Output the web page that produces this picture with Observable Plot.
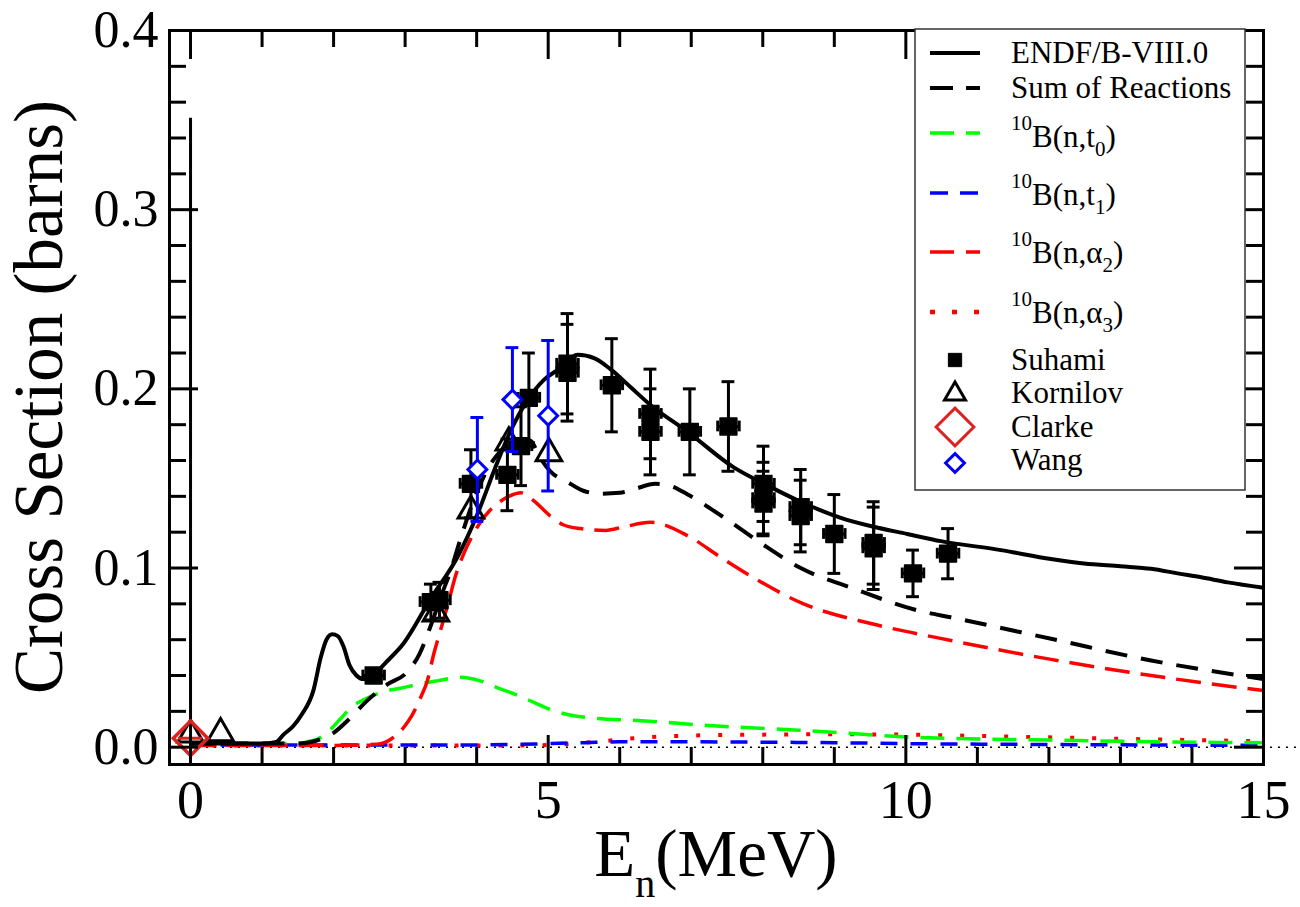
<!DOCTYPE html>
<html><head><meta charset="utf-8">
<script src="https://cdn.jsdelivr.net/npm/d3@7"></script>
<script src="https://cdn.jsdelivr.net/npm/@observablehq/plot@0.6"></script>
<style>html,body{margin:0;padding:0;background:#fff;} svg{display:block;}</style>
</head><body><div id="chart"></div>
<script>
// ---------- data ----------
const endfE = [0, 0.5, 1.0, 1.2, 1.3, 1.44, 1.55, 1.72, 1.82, 1.9, 1.98, 2.06, 2.14, 2.22, 2.32, 2.42, 2.56, 2.7, 2.98, 3.36, 3.73, 4.01, 4.25, 4.48, 4.7, 4.94, 5.15, 5.41, 5.65, 5.87, 6.15, 6.43, 6.95, 7.6, 8.07, 8.53, 9.09, 9.55, 10.02, 10.49, 11.33, 12.03, 12.49, 13.0, 13.43, 13.8, 14.13, 14.5, 15.0];
const endfS = [0.002, 0.002, 0.002, 0.003, 0.007, 0.012, 0.018, 0.032, 0.050, 0.060, 0.063, 0.062, 0.056, 0.046, 0.040, 0.038, 0.040, 0.046, 0.058, 0.083, 0.106, 0.130, 0.155, 0.177, 0.193, 0.205, 0.211, 0.219, 0.217, 0.211, 0.201, 0.191, 0.176, 0.156, 0.146, 0.137, 0.128, 0.123, 0.119, 0.115, 0.110, 0.105, 0.1025, 0.101, 0.0996, 0.097, 0.0948, 0.092, 0.089];

const sumE = [0, 1.0, 1.5, 1.7, 1.85, 2.0, 2.2, 2.47, 2.75, 3.03, 3.2, 3.36, 3.5, 3.64, 3.78, 3.95, 4.15, 4.35, 4.55, 4.75, 4.88, 5.03, 5.27, 5.5, 5.73, 6.0, 6.2, 6.5, 6.7, 6.95, 7.5, 7.97, 8.53, 9.27, 10.2, 10.63, 12.03, 13.43, 15.0];
const sumS = [0.002, 0.002, 0.002, 0.003, 0.005, 0.008, 0.015, 0.026, 0.035, 0.042, 0.052, 0.068, 0.084, 0.099, 0.117, 0.137, 0.155, 0.166, 0.172, 0.171, 0.162, 0.154, 0.148, 0.143, 0.1415, 0.142, 0.144, 0.147, 0.146, 0.141, 0.127, 0.114, 0.100, 0.0885, 0.076, 0.0725, 0.0605, 0.0484, 0.038];

const t0E = [0, 1.0, 1.5, 1.64, 1.8, 1.96, 2.1, 2.24, 2.45, 2.7, 2.95, 3.17, 3.45, 3.78, 4.05, 4.3, 4.57, 4.8, 5.03, 5.3, 5.69, 6.2, 6.6, 7.1, 8.5, 10.17, 12.0, 13.5, 15];
const t0S = [0.002, 0.002, 0.002, 0.003, 0.005, 0.010, 0.016, 0.022, 0.027, 0.031, 0.033, 0.035, 0.037, 0.039, 0.037, 0.033, 0.029, 0.025, 0.021, 0.018, 0.016, 0.015, 0.014, 0.0125, 0.0095, 0.0055, 0.004, 0.003, 0.0025];

const t1E = [0, 3.5, 4.5, 5.0, 5.5, 6.0, 7.0, 8.0, 9.0, 10.0, 12.0, 15];
const t1S = [0.0012, 0.0012, 0.0015, 0.002, 0.0025, 0.003, 0.003, 0.0028, 0.0025, 0.002, 0.0015, 0.001];

const a2E = [0, 2.0, 2.5, 2.66, 2.82, 2.98, 3.1, 3.22, 3.31, 3.4, 3.5, 3.6, 3.7, 3.82, 3.94, 4.06, 4.18, 4.29, 4.45, 4.62, 4.8, 5.03, 5.22, 5.45, 5.8, 6.06, 6.43, 6.95, 7.41, 7.87, 8.57, 9.51, 10.45, 12.03, 13.43, 15];
const a2S = [0.001, 0.001, 0.0015, 0.002, 0.005, 0.011, 0.018, 0.028, 0.037, 0.052, 0.066, 0.080, 0.095, 0.108, 0.118, 0.126, 0.132, 0.136, 0.140, 0.142, 0.1375, 0.129, 0.124, 0.122, 0.121, 0.123, 0.1255, 0.118, 0.106, 0.0946, 0.080, 0.069, 0.061, 0.049, 0.040, 0.0316];

const a3E = [0, 4.5, 5.0, 5.4, 5.8, 6.2, 6.6, 7.0, 8.0, 9.0, 10.0, 11.0, 12.0, 13.0, 14.0, 15.0];
const a3S = [0.001, 0.001, 0.0012, 0.0022, 0.0035, 0.005, 0.006, 0.0065, 0.007, 0.0072, 0.007, 0.0063, 0.0055, 0.0047, 0.004, 0.0033];

const suhE = [2.56, 3.36, 3.48, 3.92, 4.43, 4.62, 4.73, 5.27, 5.27, 5.89, 6.43, 6.43, 6.98, 7.52, 8.01, 8.01, 8.01, 8.53, 8.53, 9.0, 9.55, 9.55, 10.1, 10.59];
const suhS = [0.040, 0.081, 0.082, 0.147, 0.152, 0.168, 0.195, 0.214, 0.209, 0.202, 0.186, 0.176, 0.176, 0.179, 0.147, 0.139, 0.136, 0.134, 0.129, 0.119, 0.114, 0.111, 0.097, 0.108];
const suhErr = [0.003, 0.010, 0.010, 0.019, 0.020, 0.022, 0.025, 0.028, 0.027, 0.026, 0.025, 0.024, 0.024, 0.025, 0.021, 0.020, 0.018, 0.021, 0.020, 0.022, 0.023, 0.023, 0.013, 0.014];
const suhDE = 0.15;

const korE = [0, 0.42, 3.43, 3.92, 4.45, 5.01];
const korS = [0.007, 0.0077, 0.0745, 0.132, 0.170, 0.164];
const korBarE = [0];
const korBarLo = [-0.0087];
const korBarHi = [0.351];

const clE = [0];
const clS = [0.005];
const clDE = [0.17];

const wE = [4.01, 4.5, 5.0];
const wS = [0.155, 0.194, 0.185];
const wLo = [0.126, 0.165, 0.143];
const wHi = [0.184, 0.223, 0.227];

const xMajor = [0, 5, 10, 15];
const xMinor = [1, 2, 3, 4, 6, 7, 8, 9, 11, 12, 13, 14];
const yMajor = [0, 0.1, 0.2, 0.3, 0.4];
const yMinor = [0.02, 0.04, 0.06, 0.08, 0.12, 0.14, 0.16, 0.18, 0.22, 0.24, 0.26, 0.28, 0.32, 0.34, 0.36, 0.38];

const legendItems = ["ENDF/B-VIII.0", "Sum of Reactions", "t0", "t1", "a2", "a3", "Suhami", "Kornilov", "Clarke", "Wang"];

// ---------- layout ----------
const W = 1300, H = 907, mL = 169, mR = 37, mT = 30, mB = 143;
const fw = W - mL - mR, fh = H - mT - mB;
const FF = "Liberation Serif, Times New Roman, Times, serif";
const GREEN = "#00ff00", BLUE = "#0000ff", RED = "#ff0000", CRED = "#dd2222";
const cap = 0.09;

const zip = (E, S) => E.map((e, i) => ({E: e, S: S[i]}));
const endf = zip(endfE, endfS), sum = zip(sumE, sumS), t0 = zip(t0E, t0S),
      t1 = zip(t1E, t1S), a2 = zip(a2E, a2S), a3 = zip(a3E, a3S);
const suh = suhE.map((e, i) => ({E: e, S: suhS[i], d: suhErr[i]}));
const kor = zip(korE, korS);
const korBar = korBarE.map((e, i) => ({E: e, lo: korBarLo[i], hi: korBarHi[i]}));
const cl = clE.map((e, i) => ({E: e, S: clS[i], dE: clDE[i]}));
const wang = wE.map((e, i) => ({E: e, S: wS[i], lo: wLo[i], hi: wHi[i]}));

const lineOpts = {x: "E", y: "S", curve: "monotone-x", strokeLinecap: "butt"};

const plot = Plot.plot({
  width: W, height: H, marginLeft: mL, marginRight: mR, marginTop: mT, marginBottom: mB,
  style: {fontFamily: FF, background: "#fff", color: "black"},
  x: {domain: [-0.294, 15]},
  y: {domain: [-0.00966, 0.4]},
  marks: [
    Plot.axisX({ticks: xMajor, tickSize: 0, tickPadding: 15, fontSize: 54, fontFamily: FF, label: null, tickFormat: d => String(d)}),
    Plot.axisY({ticks: yMajor, tickSize: 0, tickPadding: 11, fontSize: 52, fontFamily: FF, label: null, tickFormat: d => d.toFixed(1)}),
    // zero reference line (dotted, extends past frame)
    Plot.ruleY([0], {x1: 0, x2: 15.48, stroke: "black", strokeWidth: 1.5, strokeDasharray: "2,6"}),
    // model curves
    Plot.line(a3, {...lineOpts, stroke: RED, strokeWidth: 4, strokeDasharray: "4,18"}),
    Plot.line(t1, {...lineOpts, stroke: BLUE, strokeWidth: 3.5, strokeDasharray: "17,13"}),
    Plot.line(t0, {...lineOpts, stroke: GREEN, strokeWidth: 3.5, strokeDasharray: "24,12"}),
    Plot.line(a2, {...lineOpts, stroke: RED, strokeWidth: 3.5, strokeDasharray: "25,11"}),
    Plot.line(sum, {...lineOpts, stroke: "black", strokeWidth: 4, strokeDasharray: "22,14"}),
    Plot.line(endf, {...lineOpts, stroke: "black", strokeWidth: 4}),
    // Suhami error bars
    Plot.ruleX(suh, {x: "E", y1: d => d.S - d.d, y2: d => d.S + d.d, stroke: "black", strokeWidth: 3}),
    Plot.ruleY(suh, {y: d => d.S + d.d, x1: d => d.E - cap, x2: d => d.E + cap, stroke: "black", strokeWidth: 3}),
    Plot.ruleY(suh, {y: d => d.S - d.d, x1: d => d.E - cap, x2: d => d.E + cap, stroke: "black", strokeWidth: 3}),
    Plot.ruleY(suh, {y: "S", x1: d => d.E - suhDE, x2: d => d.E + suhDE, stroke: "black", strokeWidth: 3}),
    Plot.ruleX(suh, {x: d => d.E - suhDE, y1: d => d.S - 0.003, y2: d => d.S + 0.003, stroke: "black", strokeWidth: 3}),
    Plot.ruleX(suh, {x: d => d.E + suhDE, y1: d => d.S - 0.003, y2: d => d.S + 0.003, stroke: "black", strokeWidth: 3}),
    Plot.dot(suh, {x: "E", y: "S", symbol: "square", r: 9.5, fill: "black", stroke: "black", strokeWidth: 1.5, strokeLinejoin: "round"}),
    // Kornilov
    Plot.ruleX(korBar, {x: "E", y1: "lo", y2: "hi", stroke: "black", strokeWidth: 3}),
    Plot.dot(kor, {x: "E", y: "S", symbol: "triangle", r: 9.5, fill: "none", stroke: "black", strokeWidth: 3}),
    // Clarke
    Plot.ruleY(cl, {y: "S", x1: d => d.E - d.dE, x2: d => d.E + d.dE, stroke: CRED, strokeWidth: 3}),
    Plot.dot(cl, {x: "E", y: "S", symbol: "diamond2", r: 15.5, fill: "none", stroke: CRED, strokeWidth: 3.5}),
    // Wang
    Plot.ruleX(wang, {x: "E", y1: "lo", y2: "hi", stroke: BLUE, strokeWidth: 3}),
    Plot.ruleY(wang, {y: "hi", x1: d => d.E - cap, x2: d => d.E + cap, stroke: BLUE, strokeWidth: 3}),
    Plot.ruleY(wang, {y: "lo", x1: d => d.E - cap, x2: d => d.E + cap, stroke: BLUE, strokeWidth: 3}),
    Plot.dot(wang, {x: "E", y: "S", symbol: "diamond2", r: 8.5, fill: "white", stroke: BLUE, strokeWidth: 3}),
    // inward ticks on all four sides
    Plot.tickX(xMinor, {x: d => d, insetTop: fh - 17, stroke: "black", strokeWidth: 3}),
    Plot.tickX(xMajor, {x: d => d, insetTop: fh - 29, stroke: "black", strokeWidth: 3}),
    Plot.tickX(xMinor, {x: d => d, insetBottom: fh - 17, stroke: "black", strokeWidth: 3}),
    Plot.tickX(xMajor, {x: d => d, insetBottom: fh - 29, stroke: "black", strokeWidth: 3}),
    Plot.tickY(yMinor, {y: d => d, insetRight: fw - 17, stroke: "black", strokeWidth: 3}),
    Plot.tickY(yMajor, {y: d => d, insetRight: fw - 29, stroke: "black", strokeWidth: 3}),
    Plot.tickY(yMinor, {y: d => d, insetLeft: fw - 17, stroke: "black", strokeWidth: 3}),
    Plot.tickY(yMajor, {y: d => d, insetLeft: fw - 29, stroke: "black", strokeWidth: 3}),
    Plot.frame({stroke: "black", strokeWidth: 3})
  ]
});

document.getElementById("chart").appendChild(plot);

// ---------- titles and legend ----------
const svg = d3.select(plot);

// y title
svg.append("text")
  .attr("transform", `translate(62,${mT + fh / 2}) rotate(-90)`)
  .attr("text-anchor", "middle").attr("font-family", FF).attr("font-size", 69).attr("fill", "black")
  .text("Cross Section (barns)");

// x title with subscript
const xt = svg.append("text").attr("x", mL + fw / 2).attr("y", 876)
  .attr("text-anchor", "middle").attr("font-family", FF).attr("fill", "black");
xt.append("tspan").attr("font-size", 67).text("E");
xt.append("tspan").attr("font-size", 40).attr("dy", 21).text("n");
xt.append("tspan").attr("font-size", 67).attr("dy", -21).text("(MeV)");

// legend
const lg = svg.append("g").attr("font-family", FF).attr("fill", "black").attr("text-anchor", "start");
lg.append("rect").attr("x", 915).attr("y", 29).attr("width", 330).attr("height", 461)
  .attr("fill", "white").attr("stroke", "#333").attr("stroke-width", 1.5);

const lx1 = 930, lx2 = 980, tx = 1011, fs = 31, fsS = 21;
const lineRows = [
  {y: 53, base: 63, stroke: "black", w: 4, dash: null},
  {y: 88, base: 98, stroke: "black", w: 4, dash: "23,13"},
  {y: 133, base: 147, stroke: GREEN, w: 3.5, dash: "24,12"},
  {y: 193, base: 205, stroke: BLUE, w: 3.5, dash: "18,12"},
  {y: 252, base: 263, stroke: RED, w: 3.5, dash: "24,12"},
  {y: 312, base: 323, stroke: RED, w: 4.5, dash: "5,17"}
];
lineRows.forEach((r, i) => {
  const ln = lg.append("line").attr("x1", lx1).attr("x2", lx2).attr("y1", r.y).attr("y2", r.y)
    .attr("stroke", r.stroke).attr("stroke-width", r.w);
  if (r.dash) ln.attr("stroke-dasharray", r.dash);
  const label = legendItems[i];
  const t = lg.append("text").attr("x", tx).attr("y", r.base).attr("font-size", fs).attr("text-anchor", "start");
  if (i < 2) { t.text(label); return; }
  const sym = label[0] === "t" ? "t" : "\u03b1";
  const sub = label.slice(1);
  t.append("tspan").attr("font-size", fsS).attr("dy", -17).text("10");
  t.append("tspan").attr("font-size", fs).attr("dy", 17).text("B(n," + sym);
  t.append("tspan").attr("font-size", fsS).attr("dy", 9).text(sub);
  t.append("tspan").attr("font-size", fs).attr("dy", -9).text(")");
});

const sym = (type, r) => d3.symbol(type, Math.PI * r * r)();
const symRows = [
  {y: 360, base: 370, path: sym(d3.symbolSquare, 7.5), fill: "black", stroke: "black", w: 1},
  {y: 394, base: 403, path: sym(d3.symbolTriangle2, 10), fill: "none", stroke: "black", w: 3},
  {y: 427, base: 437, path: sym(d3.symbolDiamond2, 17), fill: "none", stroke: CRED, w: 3},
  {y: 463, base: 470, path: sym(d3.symbolDiamond2, 8.5), fill: "white", stroke: BLUE, w: 3}
];
symRows.forEach((r, i) => {
  lg.append("path").attr("d", r.path).attr("transform", `translate(955,${r.y})`)
    .attr("fill", r.fill).attr("stroke", r.stroke).attr("stroke-width", r.w);
  lg.append("text").attr("x", tx).attr("y", r.base).attr("font-size", fs).attr("text-anchor", "start").text(legendItems[6 + i]);
});
</script>
</body></html>
